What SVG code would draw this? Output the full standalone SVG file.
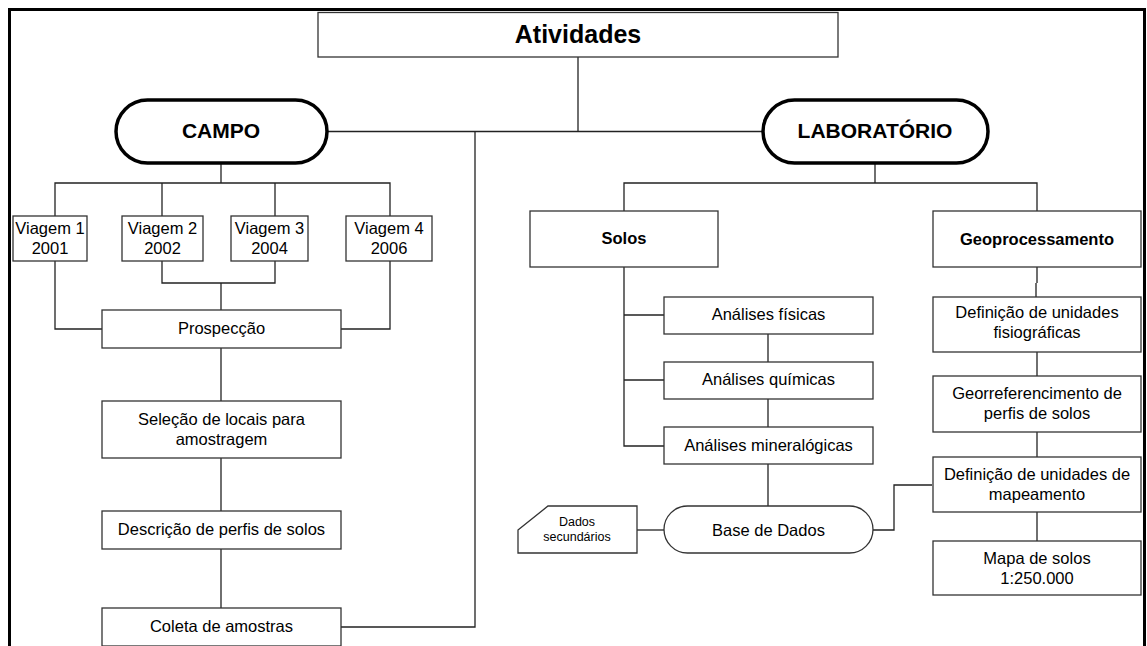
<svg xmlns="http://www.w3.org/2000/svg" width="1147" height="646" viewBox="0 0 1147 646">
<style>
text{font-family:"Liberation Sans",Arial,sans-serif;fill:#000;text-anchor:middle}
.t{font-size:16.5px}
.b{font-weight:bold;font-size:16.5px}
.s{font-size:12.5px}
.box{fill:#fff;stroke:#333;stroke-width:1.3}
.pill{fill:#fff;stroke:#000;stroke-width:3.5}
.ln{fill:none;stroke:#222;stroke-width:1.3}
</style>
<rect width="1147" height="646" fill="#fff"/>
<path d="M9.5,646 V9.5 H1144.5 V646" fill="none" stroke="#000" stroke-width="3"/>
<g id="connectors" class="ln">
<path d="M578,57 V131.5"/>
<path d="M327,131.5 H763"/>
<path d="M475,131.5 V627 H341"/>
<path d="M221,163 V183"/>
<path d="M55,216 V183 H390 V216"/>
<path d="M162,183 V216"/>
<path d="M275,183 V216"/>
<path d="M55,261 V329 H102"/>
<path d="M390,261 V329 H341"/>
<path d="M162,261 V283 H275 V261"/>
<path d="M221,283 V310"/>
<path d="M221,348 V401"/>
<path d="M221,458 V511"/>
<path d="M221,549 V608"/>
<path d="M875,163 V183"/>
<path d="M624,211 V183 H1037 V211"/>
<path d="M624,267 V446 H664"/>
<path d="M624,315 H664"/>
<path d="M624,380 H664"/>
<path d="M768,334 V362"/>
<path d="M768,399 V427"/>
<path d="M768,464 V506"/>
<path d="M637,530 H664"/>
<path d="M873,530 H894 V485 H932"/>
<path d="M1037,267 V283 M1036,283 V297"/>
<path d="M1037,352 V376"/>
<path d="M1037,432 V457"/>
<path d="M1037,512 V541"/>
</g>
<g id="atividades"><rect class="box" x="318" y="12.5" width="520" height="44.5"/><text x="578" y="43" style="font-size:25px;font-weight:bold">Atividades</text></g>
<g id="campo"><rect class="pill" x="116" y="100" width="211" height="63" rx="31.5"/><text x="221" y="137.5" style="font-size:21px;font-weight:bold">CAMPO</text></g>
<g id="laboratorio"><rect class="pill" x="763" y="100" width="225" height="63" rx="31.5"/><text x="875" y="137.5" style="font-size:21px;font-weight:bold">LABORATÓRIO</text></g>
<g id="viagem1"><rect class="box" x="13" y="216" width="74" height="45"/><text class="t" x="50" y="234">Viagem 1</text><text class="t" x="50" y="254">2001</text></g>
<g id="viagem2"><rect class="box" x="122" y="216" width="81" height="45"/><text class="t" x="162.5" y="234">Viagem 2</text><text class="t" x="162.5" y="254">2002</text></g>
<g id="viagem3"><rect class="box" x="231" y="216" width="77" height="45"/><text class="t" x="269.5" y="234">Viagem 3</text><text class="t" x="269.5" y="254">2004</text></g>
<g id="viagem4"><rect class="box" x="346" y="216" width="86" height="45"/><text class="t" x="389" y="234">Viagem 4</text><text class="t" x="389" y="254">2006</text></g>
<g id="prospeccao"><rect class="box" x="102" y="310" width="239" height="38"/><text class="t" x="221.5" y="334">Prospecção</text></g>
<g id="selecao"><rect class="box" x="102" y="401" width="239" height="57"/><text class="t" x="221.5" y="425">Seleção de locais para</text><text class="t" x="221.5" y="445">amostragem</text></g>
<g id="descricao"><rect class="box" x="102" y="511" width="239" height="38"/><text class="t" x="221.5" y="535">Descrição de perfis de solos</text></g>
<g id="coleta"><rect class="box" x="102" y="608" width="239" height="38"/><text class="t" x="221.5" y="632">Coleta de amostras</text></g>
<g id="solos"><rect class="box" x="530" y="211" width="188" height="56"/><text class="b" x="624" y="244">Solos</text></g>
<g id="geoprocessamento"><rect class="box" x="933" y="211" width="208" height="56"/><text class="b" x="1037" y="245">Geoprocessamento</text></g>
<g id="fisicas"><rect class="box" x="664" y="297" width="209" height="37"/><text class="t" x="768.5" y="320">Análises físicas</text></g>
<g id="quimicas"><rect class="box" x="664" y="362" width="209" height="37"/><text class="t" x="768.5" y="385">Análises químicas</text></g>
<g id="mineralogicas"><rect class="box" x="664" y="427" width="209" height="37"/><text class="t" x="768.5" y="451">Análises mineralógicas</text></g>
<g id="base-dados"><rect class="box" x="664" y="506" width="209" height="47" rx="23.5"/><text class="t" x="768.5" y="536">Base de Dados</text></g>
<g id="dados-secundarios"><path class="box" d="M518,530 L548,506 H637 V553 H518 Z"/><text class="s" x="577" y="526">Dados</text><text class="s" x="577" y="541">secundários</text></g>
<g id="fisiograficas"><rect class="box" x="933" y="297" width="208" height="55"/><text class="t" x="1037" y="318">Definição de unidades</text><text class="t" x="1037" y="338">fisiográficas</text></g>
<g id="georreferenciamento"><rect class="box" x="933" y="376" width="208" height="56"/><text class="t" x="1037" y="399">Georreferencimento de</text><text class="t" x="1037" y="419">perfis de solos</text></g>
<g id="mapeamento"><rect class="box" x="933" y="457" width="208" height="55"/><text class="t" x="1037" y="480">Definição de unidades de</text><text class="t" x="1037" y="500">mapeamento</text></g>
<g id="mapa"><rect class="box" x="933" y="541" width="208" height="54"/><text class="t" x="1037" y="564">Mapa de solos</text><text class="t" x="1037" y="584">1:250.000</text></g>
</svg>
